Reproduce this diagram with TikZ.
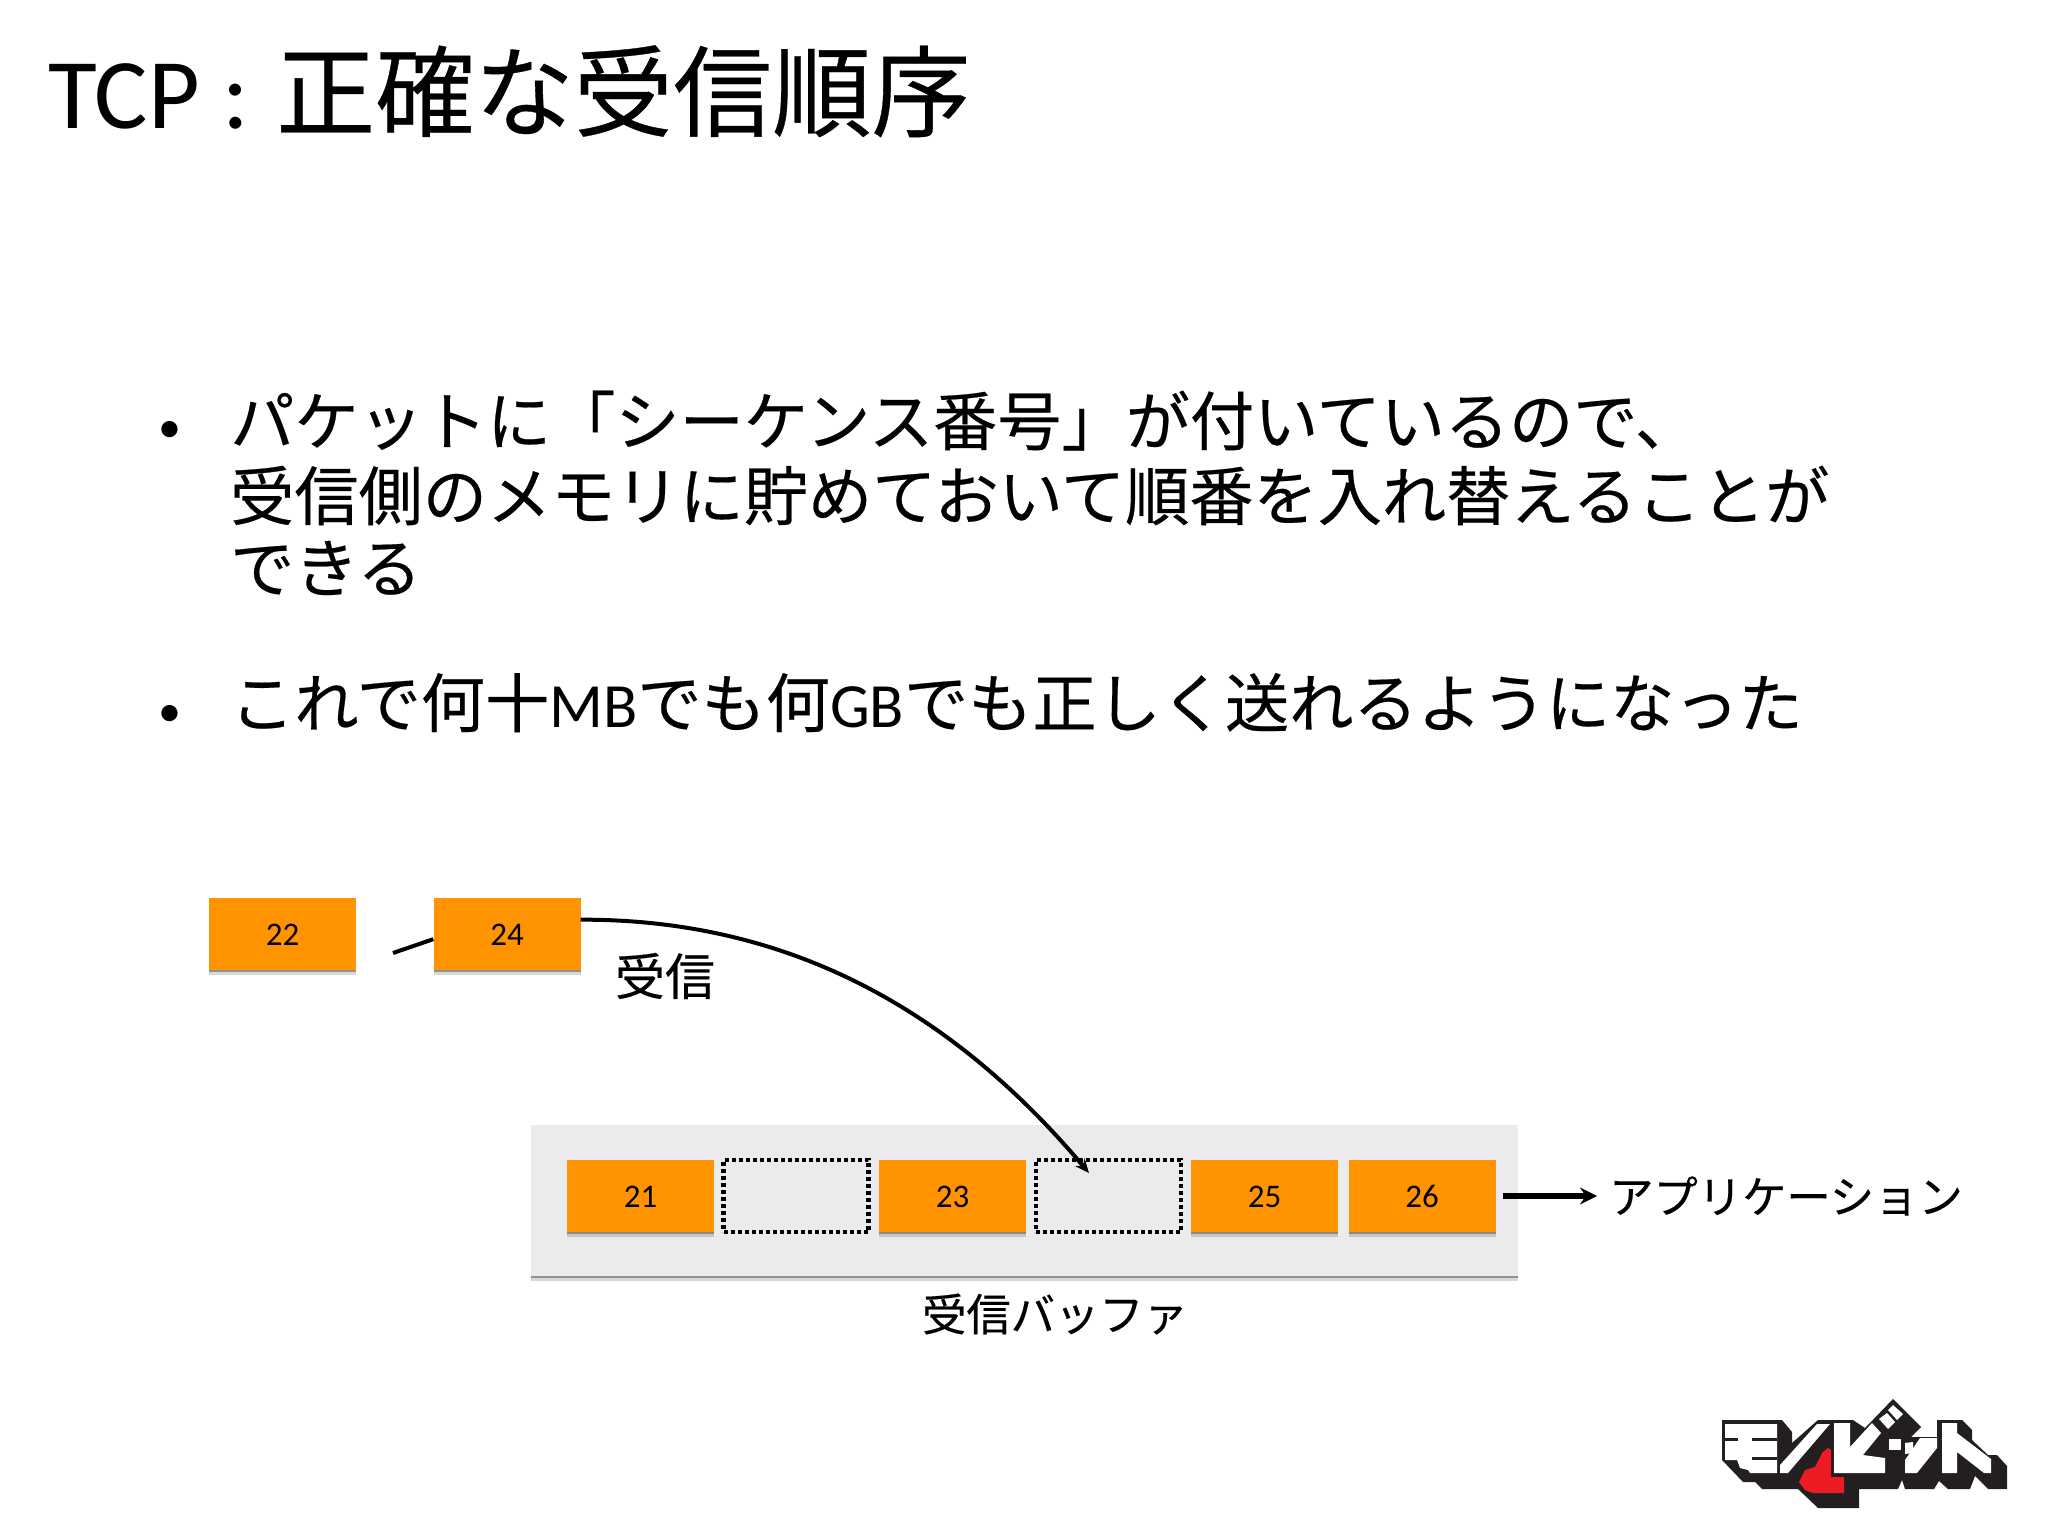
\documentclass[tikz,border=0pt]{standalone}
\usepackage{fontspec}
\setmainfont{Carlito}
\newfontfamily\cjk[FakeBold=0.35]{Noto Sans CJK JP}
\usetikzlibrary{arrows.meta,shadows}
\tikzset{
  softshadow/.style={drop shadow={shadow xshift=0pt,shadow yshift=-2pt,opacity=.5,fill=black!70},
    drop shadow={shadow xshift=0pt,shadow yshift=-5pt,opacity=.22,fill=black!70}},
  packet/.style={rectangle,fill=pktorange,minimum width=147pt,minimum height=72pt,inner sep=0pt,softshadow,
    text height=23pt,text depth=0pt,font=\fontsize{33}{36}\selectfont},
  slot/.style={rectangle,draw=black,line width=4.5pt,dash pattern=on 4pt off 3pt,fill=bufgrey,minimum width=145pt,minimum height=72pt,inner sep=0pt},
  bufferbox/.style={rectangle,fill=bufgrey,minimum width=987pt,minimum height=151pt,inner sep=0pt,softshadow},
  titletext/.style={anchor=base west,inner sep=0pt,font=\fontsize{100}{110}\selectfont},
  bodytext/.style={anchor=base west,inner sep=0pt,font=\fontsize{64.2}{70}\selectfont},
  bullettext/.style={anchor=center,inner sep=0pt,font=\fontsize{46}{50}\selectfont},
  smalllabel/.style={inner sep=0pt,font=\fontsize{44.3}{48}\selectfont},
  biglabel/.style={inner sep=0pt,font=\fontsize{50}{54}\selectfont},
  conn/.style={draw=black,line width=4pt},
  logoblack/.style={fill=logoink,draw=none},
  logowhite/.style={fill=white,draw=none},
}
\definecolor{pktorange}{HTML}{FF9400}
\definecolor{bufgrey}{HTML}{EBEAEC}
\definecolor{logoink}{HTML}{231F20}
\definecolor{logored}{HTML}{ED1C24}
\begin{document}
\begin{tikzpicture}[x=1pt,y=-1pt]
\useasboundingbox (0,0) rectangle (2048,1536);
% title
\node[titletext] (title) at (48,129) {TCP :\hspace{27pt}{\cjk\fontsize{99.2}{110}\selectfont 正確な受信順序}};
% bullets
\node[bullettext] (b1) at (170,432) {•};
\node[bodytext] (l1) at (230,445) {\cjk パケットに「シーケンス番号」が付いているので、};
\node[bodytext] (l2) at (230,520) {\cjk 受信側のメモリに貯めておいて順番を入れ替えることが};
\node[bodytext] (l3) at (230,592) {\cjk できる};
\node[bullettext] (b2) at (170,716) {•};
\node[bodytext] (l4) at (230,727) {{\cjk これで何十}{\fontsize{63}{70}\selectfont MB}{\cjk でも何}{\fontsize{63}{70}\selectfont GB}{\cjk でも正しく送れるようになった}};
% stub behind packet 24
\coordinate (stubstart) at (393,953);
\node[packet] (p22) at (282.5,934) {22};
\node[packet] (p24) at (507,934) {24};
\draw[conn] (stubstart) -- (p24.184.6);
\node[biglabel] (recv) at (665,976) {\cjk 受信};
% buffer
\node[bufferbox] (buf) at (1024.5,1200) {};
\node[packet] (p21) at (640.5,1196) {21};
\node[slot] (s1) at (796,1196) {};
\node[packet] (p23) at (952.5,1196) {23};
\node[slot] (s2) at (1108.5,1196) {};
\node[packet] (p25) at (1264.5,1196) {25};
\node[packet] (p26) at (1422,1196) {26};
\node[smalllabel] (buflabel) at (1055,1314) {\cjk 受信バッファ};
\node[smalllabel] (app) at (1786,1196) {\cjk アプリケーション};
% connectors
\coordinate (tip) at (1089,1173);
\draw[conn,-{Stealth[length=14pt,width=12pt]}] (p24.11.6) .. controls (800,919) and (960,1020) .. (tip);
\draw[draw=black,line width=6pt,-{Stealth[length=17pt,width=17pt]},shorten <=7pt,shorten >=12pt] (p26.east) -- (app.west);
% logo
\fill[logoblack] (1722,1420) -- (1782,1420) -- (1792,1432) -- (1792,1443) -- (1818,1420) -- (1853,1420)
  -- (1865,1428) -- (1893,1399) -- (1921,1427) -- (1911,1437) -- (1937,1437) -- (1937,1420) -- (1962,1420)
  -- (1972,1430) -- (1972,1440) -- (1988,1455) -- (1997,1455) -- (2007,1466) -- (2007,1489) -- (1988,1489)
  -- (1975,1476) -- (1970,1489) -- (1948,1489) -- (1939,1481) -- (1934,1489) -- (1905,1489) -- (1902,1480)
  -- (1898,1489) -- (1859,1489) -- (1859,1508) -- (1818,1508) -- (1798,1489) -- (1762,1489) -- (1755,1482)
  -- (1743,1482) -- (1722,1460) -- cycle;
% mo
\fill[logowhite] (1725,1424) -- (1777,1424) -- (1777,1473) -- (1750,1473) -- (1748,1470) -- (1740,1468) -- (1737,1460) -- (1725,1460) -- cycle;
\fill[logoblack] (1725,1438) -- (1738,1438) -- (1738,1441) -- (1725,1441) -- cycle;
\fill[logoblack] (1752,1438) -- (1777,1438) -- (1777,1441) -- (1752,1441) -- cycle;
\fill[logoblack] (1752,1457) -- (1777,1457) -- (1777,1460) -- (1752,1460) -- cycle;
% no
\fill[logowhite] (1817,1424) -- (1830,1424) -- (1788,1473) -- (1780,1473) -- (1780,1465) -- cycle;
% heart
\fill[logored] (1828,1448) -- (1831,1450) -- (1831,1477) -- (1844,1477) -- (1844,1493) -- (1813,1493) -- (1805,1490)
  -- (1799,1482) -- (1805,1470) -- (1815,1467) -- (1822,1453) -- cycle;
% bi
\fill[logowhite] (1834,1423) -- (1850,1423) -- (1850,1447) -- (1872,1423) -- (1881,1433) -- (1863,1455)
  -- (1885,1458) -- (1885,1473) -- (1834,1473) -- cycle;
\fill[logowhite] (1879,1419) -- (1887,1413) -- (1895,1422) -- (1888,1429) -- cycle;
\fill[logowhite] (1888,1410) -- (1893,1405) -- (1903,1414) -- (1897,1420) -- cycle;
% tsu
\fill[logowhite] (1889,1439) -- (1901,1439) -- (1901,1450) -- (1889,1450) -- cycle;
\fill[logowhite] (1905,1443) -- (1913,1442) -- (1913,1453) -- (1905,1454) -- cycle;
\fill[logowhite] (1920,1438) -- (1937,1438) -- (1937,1448) -- (1917,1473) -- (1905,1473) -- (1905,1460) -- cycle;
% to
\fill[logowhite] (1942,1423) -- (1957,1423) -- (1957,1433) -- (1991,1459) -- (1991,1473) -- (1984,1473) -- (1957,1452) -- (1957,1473) -- (1942,1473) -- cycle;
\end{tikzpicture}
\end{document}
